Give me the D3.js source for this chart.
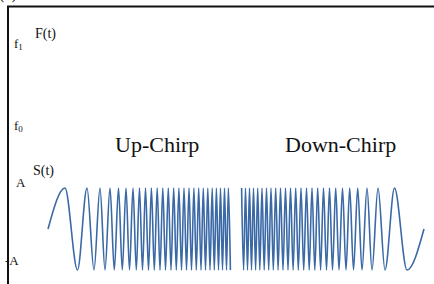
<!DOCTYPE html>
<html lang="en">
<head>
  <script src="https://d3js.org/d3.v7.min.js"></script>
  <style>
    body { margin: 0; background: #fff; }
    svg text { font-family: "Liberation Serif", "DejaVu Serif", serif; fill: #111; }
  </style>
</head>
<body>
<script>
  // signal extrema (time in samples, 0..376)
  var upPeaks = [17, 39, 52, 62, 70.5, 78, 85, 91.5, 97.5, 103.4, 109.2, 114.8, 120.3, 125.7,
                 130.9, 136, 141, 145.9, 150.7, 155.3, 159.8, 164.2, 168.4, 172.5, 176.5, 180.4];
  var upTroughs = [29.5, 46, 57, 66.3, 74.3, 81.5, 88.3, 94.5, 100.5, 106.3, 112, 117.5, 123, 128.3,
                   133.5, 138.5, 143.5, 148.3, 153, 157.5, 162, 166.3, 170.5, 174.5, 178.5, 182.4];
  var downPeaks = [193.6, 197.5, 201.5, 205.5, 209.7, 214, 218.5, 223, 227.7, 232.5, 237.5, 242.5, 247.7,
                   253, 258.5, 264, 269.7, 275.5, 281.5, 287.7, 294.5, 301.7, 309.7, 319, 330, 346.5];
  var downTroughs = [195.6, 199.5, 203.5, 207.6, 211.8, 216.2, 220.7, 225.3, 230.1, 235, 240, 245.1, 250.3,
                     255.7, 261.2, 266.8, 272.6, 278.5, 284.5, 291, 298, 305.5, 314, 324, 337, 359];
  var tStart = 0, tEnd = 376;
  var yLabels = [{ t: "A", v: 1 }, { t: "-A", v: -1 }];
  var titles = ["Up-Chirp", "Down-Chirp"];

  var svg = d3.select("body").append("svg").attr("width", 434).attr("height", 284);

  var x = d3.scaleLinear().domain([tStart, tEnd]).range([48, 424]);
  var y = d3.scaleLinear().domain([-1, 1]).range([270, 188]);

  // frame (top + left only)
  svg.append("path")
    .attr("d", "M8,284 V6.5 H434")
    .attr("fill", "none").attr("stroke", "#111").attr("stroke-width", 2);

  // caption cut off at the top of the picture
  svg.append("text").attr("x", -1).attr("y", -1).attr("font-size", 16).text("(a)");

  function pts(peaks, troughs, extra) {
    var p = peaks.map(function(t) { return { t: t, v: 1 }; })
      .concat(troughs.map(function(t) { return { t: t, v: -1 }; }))
      .concat(extra);
    return p.sort(function(a, b) { return a.t - b.t; });
  }
  var up = pts(upPeaks, upTroughs, [{ t: tStart, v: 0 }]);
  var down = pts(downPeaks, downTroughs, [{ t: tEnd, v: 0 }]);

  var line = d3.line().x(function(d) { return x(d.t); }).y(function(d) { return y(d.v); })
    .curve(d3.curveMonotoneX);

  svg.selectAll("path.sig").data([up, down]).enter().append("path")
    .attr("class", "sig")
    .attr("d", line)
    .attr("fill", "none")
    .attr("stroke", "#3a69a6")
    .attr("stroke-width", 1.6);

  // axis labels
  var f1 = svg.append("text").attr("x", 14).attr("y", 48).attr("font-size", 13);
  f1.append("tspan").text("f");
  f1.append("tspan").attr("font-size", 9).attr("dy", 2).text("1");
  svg.append("text").attr("x", 35).attr("y", 38).attr("font-size", 14).text("F(t)");

  var f0 = svg.append("text").attr("x", 14).attr("y", 130).attr("font-size", 13);
  f0.append("tspan").text("f");
  f0.append("tspan").attr("font-size", 9).attr("dy", 2).text("0");

  svg.append("text").attr("x", 33).attr("y", 175).attr("font-size", 14).text("S(t)");

  svg.selectAll("text.amp").data(yLabels).enter().append("text")
    .attr("class", "amp")
    .attr("x", function(d) { return d.v > 0 ? 16 : 5; })
    .attr("y", function(d) { return y(d.v) + (d.v > 0 ? -1 : -5); })
    .attr("font-size", 13)
    .text(function(d) { return d.t; });

  svg.selectAll("text.title").data(titles).enter().append("text")
    .attr("class", "title")
    .attr("x", function(d, i) { return i === 0 ? 115 : 285; })
    .attr("y", 152)
    .attr("font-size", 22)
    .text(function(d) { return d; });
</script>
</body>
</html>
